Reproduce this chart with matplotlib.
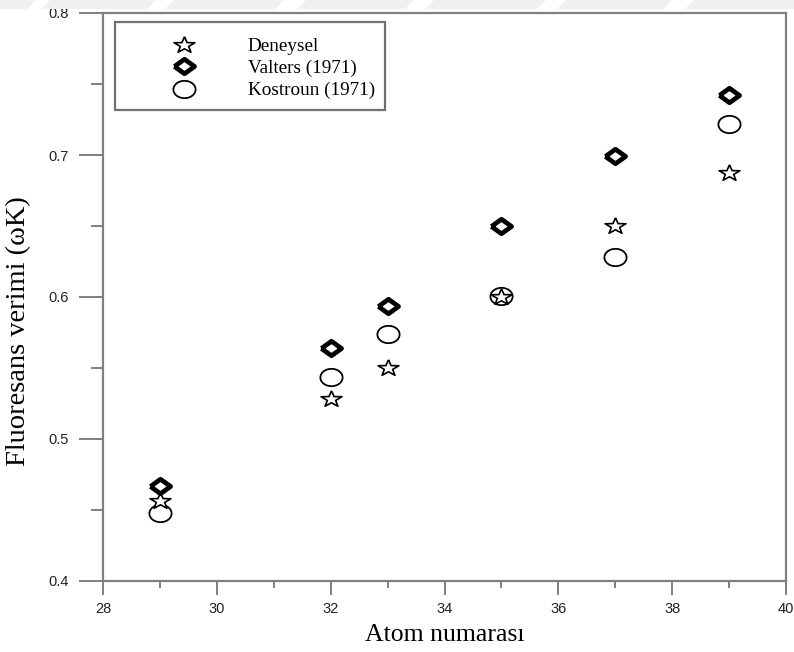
import numpy as np
import matplotlib
matplotlib.use("Agg")
import matplotlib.pyplot as plt
from matplotlib.lines import Line2D
from matplotlib.patches import Rectangle, Polygon
from matplotlib.ticker import MultipleLocator, FormatStrFormatter

# Atomic numbers and K-shell fluorescence yields
atom_numbers = [29, 32, 33, 35, 37, 39]
deneysel = [0.457, 0.529, 0.551, 0.601, 0.651, 0.688]
valters_1971 = [0.467, 0.564, 0.594, 0.650, 0.699, 0.742]
kostroun_1971 = [0.448, 0.544, 0.574, 0.601, 0.628, 0.722]

series_labels = ["Deneysel", "Valters (1971)", "Kostroun (1971)"]
x_ticks = [28, 30, 32, 34, 36, 38, 40]
y_ticks = [0.4, 0.5, 0.6, 0.7, 0.8]

# Slightly flattened marker shapes
SQUASH = 0.78
ang = np.pi / 2 + np.arange(10) * np.pi / 5
rad = np.where(np.arange(10) % 2 == 0, 1.0, 0.40)
star_verts = list(zip(rad * np.cos(ang), rad * np.sin(ang) * SQUASH - 0.08))
star_verts.append(star_verts[0])
diamond_verts = [(-1, 0), (0, 0.72), (1, 0), (0, -0.72), (-1, 0)]
t = np.linspace(0, 2 * np.pi, 61)
ellipse_verts = list(zip(np.cos(t), np.sin(t) * SQUASH))

star_style = dict(marker=star_verts, markersize=15, markerfacecolor="white",
                  markeredgecolor="black", markeredgewidth=1.2, linestyle="none")
diamond_style = dict(marker=diamond_verts, markersize=14.5, markerfacecolor="white",
                     markeredgecolor="black", markeredgewidth=3.4, linestyle="none")
circle_style = dict(marker=ellipse_verts, markersize=16, markerfacecolor="white",
                    markeredgecolor="black", markeredgewidth=1.3, linestyle="none")

W, H = 794, 652
fig = plt.figure(figsize=(W / 100, H / 100), dpi=100)
fig.patch.set_facecolor("white")

# faint banner strip along the top edge
for x0, x1 in [(-20, 36), (50, 156), (174, 284), (306, 414), (434, 546), (566, 672), (694, 810)]:
    fig.patches.append(Polygon([(x0 / W, 1.0), (x1 / W, 1.0), ((x1 - 9) / W, 1 - 9 / H),
                                ((x0 - 9) / W, 1 - 9 / H)], closed=True,
                               transform=fig.transFigure, facecolor="#f0f0f0",
                               edgecolor="none", zorder=0))

ax = fig.add_axes([103 / W, 1 - 581 / H, 683 / W, 568 / H])

ax.plot(atom_numbers, kostroun_1971, zorder=3, clip_on=False, **circle_style)
ax.plot(atom_numbers, deneysel, zorder=4, clip_on=False, **star_style)
ax.plot(atom_numbers, valters_1971, zorder=5, clip_on=False, **diamond_style)

ax.set_xlim(28, 40)
ax.set_ylim(0.4, 0.8)
ax.set_xticks(x_ticks)
ax.set_yticks(y_ticks)
ax.xaxis.set_minor_locator(MultipleLocator(1))
ax.yaxis.set_minor_locator(MultipleLocator(0.05))
ax.yaxis.set_major_formatter(FormatStrFormatter("%.1f"))

axis_gray = "#808080"
for sp in ax.spines.values():
    sp.set_color(axis_gray)
    sp.set_linewidth(1.6)

tick_font = "Liberation Sans"
ax.tick_params(axis="y", which="major", direction="out", length=17, width=1.4,
               color=axis_gray, pad=8, labelsize=10.5, labelcolor="#222222")
ax.tick_params(axis="y", which="minor", direction="out", length=8.5, width=1.4,
               color=axis_gray)
ax.tick_params(axis="x", which="major", direction="out", length=10, width=1.4,
               color=axis_gray, pad=5, labelsize=10.5, labelcolor="#222222")
ax.tick_params(axis="x", which="minor", direction="out", length=5, width=1.4,
               color=axis_gray)
for lab in ax.get_xticklabels() + ax.get_yticklabels():
    lab.set_fontfamily(tick_font)

ax.set_xlabel("Atom numarası", fontfamily="Liberation Serif", fontsize=18.5)
ax.set_ylabel("Fluoresans verimi (ωK)", fontfamily="Liberation Serif", fontsize=20.5)
ax.xaxis.set_label_coords(0.5, -0.075)
ax.yaxis.set_label_coords(-0.105, 0.44)

# legend with a plain rectangular frame
ax.add_patch(Rectangle((0.0176, 0.829), 0.3954, 0.155, transform=ax.transAxes,
                       facecolor="white", edgecolor="#707070", linewidth=1.6,
                       zorder=6, clip_on=False))
handles = [Line2D([], [], **star_style), Line2D([], [], **diamond_style),
           Line2D([], [], **circle_style)]
leg = ax.legend(handles, series_labels, loc="upper left",
                bbox_to_anchor=(0.1042, 0.957), frameon=False, borderpad=0,
                borderaxespad=0, handlelength=1.0, handletextpad=2.83,
                labelspacing=0.25, numpoints=1,
                prop={"family": "Liberation Serif", "size": 13.8})
leg.set_zorder(7)

fig.savefig("out.png", dpi=100, facecolor="white")
